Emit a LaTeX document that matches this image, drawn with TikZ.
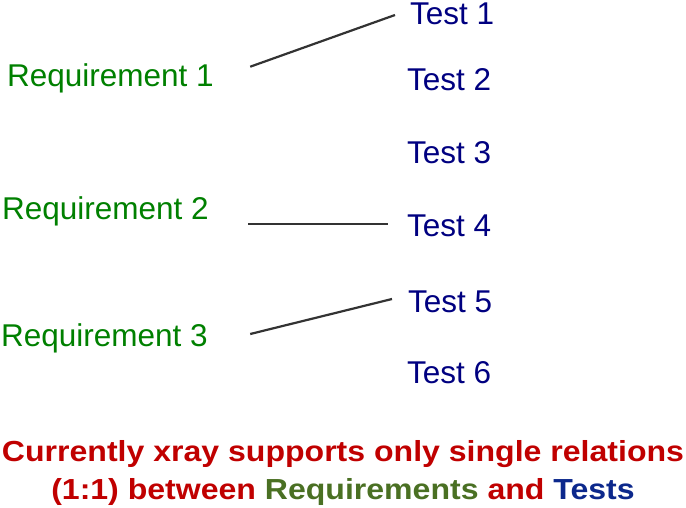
\documentclass[tikz,border=0pt]{standalone}
\usepackage{fontspec}
\setmainfont{Liberation Sans}
\newfontfamily\notefont[FakeStretch=1.105]{Liberation Sans}
\definecolor{reqgreen}{RGB}{0,128,0}
\definecolor{testblue}{RGB}{0,0,128}
\definecolor{notered}{RGB}{192,0,0}
\definecolor{noteolive}{RGB}{74,112,35}
\definecolor{noteblue}{RGB}{12,40,140}
\begin{document}
\begin{tikzpicture}[x=1pt,y=-1pt,line width=2.2pt,text badly centered]

\useasboundingbox (0,0) rectangle (686,507);

\begin{scope}[every node/.style={inner sep=0pt,anchor=base west,font=\fontsize{31.5}{36}\selectfont}]
  \node[text=reqgreen] (R1) at (6,86)  {Requirement 1};
  \node[text=reqgreen] (R2) at (1,219) {Requirement 2};
  \node[text=reqgreen] (R3) at (0,346) {Requirement 3};
  \node[text=testblue] (T1) at (409,24)  {Test 1};
  \node[text=testblue] (T2) at (406,90)  {Test 2};
  \node[text=testblue] (T3) at (406,163) {Test 3};
  \node[text=testblue] (T4) at (406,236) {Test 4};
  \node[text=testblue] (T5) at (407,312) {Test 5};
  \node[text=testblue] (T6) at (406,383) {Test 6};
\end{scope}

\begin{scope}[every node/.style={inner sep=0pt,anchor=base,text=notered,font=\notefont\bfseries\fontsize{29}{36}\selectfont}]
  \node (N1) at (343,461) {Currently xray supports only single relations};
  \node (N2) at (343,499) {(1:1) between \textcolor{noteolive}{Requirements} and \textcolor{noteblue}{Tests}};
\end{scope}

\path[draw=black!80]
  ([xshift=35.4pt,yshift=19.3pt]R1.base east) edge ([xshift=-14pt,yshift=9pt]T1.base west)
  ([xshift=38.4pt,yshift=-5.3pt]R2.base east) edge ([xshift=-18pt,yshift=11.7pt]T4.base west)
  ([xshift=41.4pt,yshift=12pt]R3.base east)   edge ([xshift=-15pt,yshift=13pt]T5.base west);

\end{tikzpicture}
\end{document}
